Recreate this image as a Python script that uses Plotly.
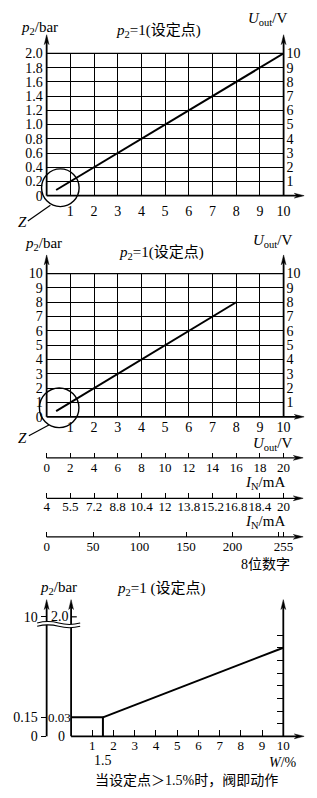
import plotly.graph_objects as go

# ---------------- data ----------------
# chart 1: p2 (bar) versus Uout (V), set point p2 = 1
top_u = [0.4, 10]
top_p2 = [0.08, 2.0]
top_left_vals = [0, 0.2, 0.4, 0.6, 0.8, 1.0, 1.2, 1.4, 1.6, 1.8, 2.0]
top_left_text = ["0", "0.2", "0.4", "0.6", "0.8", "1.0", "1.2", "1.4", "1.6", "1.8", "2.0"]
volt_ticks = [1, 2, 3, 4, 5, 6, 7, 8, 9, 10]
volt_right_ticks = [1, 2, 3, 4, 5, 6, 7, 8, 9, 10]

# chart 2: p2 (bar 0..10) versus Uout (V)
mid_u = [0.4, 8]
mid_p2 = [0.4, 8]
mid_left_vals = [0, 1, 2, 3, 4, 5, 6, 7, 8, 9, 10]

# conversion scales
ma_vals = [0, 2, 4, 6, 8, 10, 12, 14, 16, 18, 20]
ma2_pos = [0, 1, 2, 3, 4, 5, 6, 7, 8, 9, 10]
ma2_text = ["4", "5.5", "7.2", "8.8", "10.4", "12", "13.8", "15.2", "16.8", "18.4", "20"]
dig_vals = [0, 50, 100, 150, 200, 250, 255]
dig_text = ["0", "50", "100", "150", "200", "", "255"]

# chart 3: p2 versus W (%) (schematic units on the y axis)
w_step = [0, 1.5, 1.5]
p_step = [1.5, 1.5, 0]
w_ramp = [1.5, 10]
p_ramp = [1.5, 7]
w_ticks = [1, 2, 3, 4, 5, 6, 7, 8, 9, 10]
ramp_right_ticks = [1, 2, 3, 4, 5, 6, 7, 8]
bot_left_vals = [0, 1.5, 9.44]
bot_left_text = ["0", "0.15", "10"]

# ---------------- geometry (pixels) ----------------
W, H = 317, 798
FONT = '"Liberation Serif", "Times New Roman", "Noto Sans CJK SC", serif'
X0, X10 = 47.7, 290.0
C1_Y0, C1_YT = 192.3, 47.3
C2_Y0, C2_YT = 417.7, 271.7
S1, S2, S3 = 459.5, 500.7, 540.0
A1, C3_X0, C3_X10 = 47.7, 72.7, 289.7
C3_Y0, C3_TIP, C3_UNIT = 743.3, 604.0, 12.9
ARROW_X = 311.0
SCALE_ARROW = 310.0


def dx(x):
    return x / W


def dy(y):
    return 1 - y / H


def padded(pa, pb, r0, r1, pad=3.0):
    unit = (r1 - r0) / (pb - pa)
    return [dx(pa - pad), dx(pb + pad)], [r0 - pad * unit, r1 + pad * unit]


fig = go.Figure()

LINE = dict(color="black", width=2)
fig.add_trace(go.Scatter(x=top_u, y=top_p2, xaxis="x", yaxis="y", mode="lines", line=LINE))
fig.add_trace(go.Scatter(x=mid_u, y=mid_p2, xaxis="x2", yaxis="y3", mode="lines", line=LINE))
fig.add_trace(go.Scatter(x=w_step, y=p_step, xaxis="x6", yaxis="y8", mode="lines", line=LINE))
fig.add_trace(go.Scatter(x=w_ramp, y=p_ramp, xaxis="x6", yaxis="y8", mode="lines", line=LINE))
for xa, ya in [("x", "y2"), ("x2", "y4"), ("x3", "y5"), ("x4", "y6"), ("x5", "y7"), ("x6", "y9")]:
    fig.add_trace(go.Scatter(x=[None], y=[None], xaxis=xa, yaxis=ya, mode="lines", hoverinfo="skip"))

TF = dict(family=FONT, size=14, color="black")
TF13 = dict(family=FONT, size=13, color="black")
grid = dict(showgrid=True, gridcolor="black", gridwidth=1.2, zeroline=False, showline=False,
            ticks="", fixedrange=True, tickangle=0, tickfont=TF)
plain = dict(showgrid=False, zeroline=False, showline=False, fixedrange=True, tickangle=0)

lay = {}
# chart 1
lay["xaxis"] = dict(domain=[dx(X0), dx(X10)], range=[0, 10], anchor="y", tickvals=volt_ticks,
                    ticktext=[str(v) for v in volt_ticks], ticklabelstandoff=5, **grid)
lay["yaxis"] = dict(domain=[dy(C1_Y0), dy(C1_YT)], range=[0, 2], anchor="x", tickvals=top_left_vals,
                    ticktext=top_left_text, ticklabelstandoff=3, **grid)
lay["yaxis2"] = dict(overlaying="y", side="right", anchor="x", range=[0, 10], tickvals=volt_right_ticks,
                     ticktext=[str(v) for v in volt_right_ticks], ticks="", ticklabelstandoff=2,
                     tickfont=TF, **plain)
# chart 2
lay["xaxis2"] = dict(domain=[dx(X0), dx(X10)], range=[0, 10], anchor="y3", tickvals=volt_ticks,
                     ticktext=[str(v) for v in volt_ticks], ticklabelstandoff=0, **grid)
lay["yaxis3"] = dict(domain=[dy(C2_Y0), dy(C2_YT)], range=[0, 10], anchor="x2", tickvals=mid_left_vals,
                     ticktext=[str(v) for v in mid_left_vals], ticklabelstandoff=3, **grid)
lay["yaxis4"] = dict(overlaying="y3", side="right", anchor="x2", range=[0, 10], tickvals=volt_right_ticks,
                     ticktext=[str(v) for v in volt_right_ticks], ticks="", ticklabelstandoff=2,
                     tickfont=TF, **plain)

# scales
tick_in = dict(ticks="inside", ticklen=5, tickwidth=1.3, tickcolor="black")
for xa, ya, S, r1, vals, text, so in [
    ("xaxis3", "yaxis5", S1, 20, ma_vals, [str(v) for v in ma_vals], 0),
    ("xaxis4", "yaxis6", S2, 10, ma2_pos, ma2_text, -1),
    ("xaxis5", "yaxis7", S3, 255, dig_vals, dig_text, 0),
]:
    dom, rng = padded(X0, X10, 0, r1)
    lay[xa] = dict(domain=dom, range=rng, anchor=ya.replace("axis", ""), tickvals=vals, ticktext=text,
                   ticklabelstandoff=so, tickfont=TF13, **tick_in, **plain)
    lay[ya] = dict(domain=[dy(S), dy(S) + 0.002], range=[0, 1], anchor=xa.replace("axis", ""), visible=False)

# chart 3
unit3 = (C3_X10 - C3_X0) / 10
xmin3 = -(C3_X0 - A1) / unit3
ytop3 = (C3_Y0 - C3_TIP) / C3_UNIT
lay["xaxis6"] = dict(domain=[dx(A1), dx(C3_X10)], range=[xmin3, 10], anchor="y8", tickvals=w_ticks,
                     ticktext=[str(v) for v in w_ticks], ticks="inside", ticklen=6, tickwidth=1.3,
                     tickcolor="black", ticklabelstandoff=0, tickfont=TF13, **plain)
lay["yaxis8"] = dict(domain=[dy(C3_Y0), dy(C3_TIP)], range=[0, ytop3], anchor="x6", tickvals=bot_left_vals,
                     ticktext=bot_left_text, ticks="outside", ticklen=5, tickwidth=1.3, tickcolor="black",
                     ticklabelstandoff=0, tickfont=TF, **plain)
lay["yaxis9"] = dict(overlaying="y8", side="right", anchor="x6", range=[0, ytop3], tickvals=ramp_right_ticks,
                     ticktext=["" for _ in ramp_right_ticks], ticks="inside", ticklen=6, tickwidth=1.3,
                     tickcolor="black", tickfont=TF, **plain)

shapes = []


def seg(x0, y0, x1, y1, w=1.8):
    shapes.append(dict(type="line", xref="paper", yref="paper", x0=dx(x0), y0=dy(y0), x1=dx(x1), y1=dy(y1),
                       line=dict(color="black", width=w), layer="above"))


def head(x, y, d, L=10.0, hw=2.4):
    if d == "up":
        pts = [(x, y), (x - hw, y + L), (x, y + 0.72 * L), (x + hw, y + L)]
    else:
        pts = [(x, y), (x - L, y - hw), (x - 0.72 * L, y), (x - L, y + hw)]
    p = "M" + " L".join(f"{dx(a):.5f},{dy(b):.5f}" for a, b in pts) + " Z"
    shapes.append(dict(type="path", xref="paper", yref="paper", path=p, fillcolor="black",
                       line=dict(color="black", width=0.5), layer="above"))


def circle(cx, cy, r):
    shapes.append(dict(type="circle", xref="paper", yref="paper", x0=dx(cx - r), x1=dx(cx + r),
                       y0=dy(cy + r), y1=dy(cy - r), line=dict(color="black", width=1.4), layer="above"))


for Y0, YT in [(C1_Y0, C1_YT), (C2_Y0, C2_YT)]:
    tip = YT - 19
    seg(X0, Y0, X0, tip + 7)
    head(X0, tip, "up")
    seg(X10, Y0, X10, tip + 7)
    head(X10, tip, "up")
    seg(X0, Y0, ARROW_X - 7, Y0)
    head(ARROW_X, Y0, "right")
    seg(X0, YT, X10, YT, 1.2)

circle(61.7, 184.2, 19.2)
seg(28.5, 218.0, 51.5, 202.0, 1.2)
circle(60.5, 408.5, 20.2)
seg(29.5, 437.0, 50.0, 426.0, 1.2)

for S in (S1, S2, S3):
    seg(X0, S, SCALE_ARROW - 7, S, 1.3)
    head(SCALE_ARROW, S, "right")

# chart 3 axes
for xa in (A1, C3_X0, C3_X10):
    seg(xa, C3_Y0, xa, C3_TIP + 7)
    head(xa, C3_TIP, "up")
seg(C3_X0, C3_Y0, ARROW_X - 7, C3_Y0)
head(ARROW_X, C3_Y0, "right")
seg(C3_X0, 621.5, 78.5, 621.5, 1.2)


# axis break
def P(a, b):
    return f"{dx(a):.5f},{dy(b):.5f}"


bx0, bx1, amp = 38.0, 82.0, 1.5
bm = (bx0 + bx1) / 2
q = (bx1 - bx0) / 4
yu, yl = 627.8, 631.2
fill = (f"M{P(bx0, yu)} Q{P(bx0 + q, yu - 2 * amp)} {P(bm, yu)} Q{P(bm + q, yu + 2 * amp)} {P(bx1, yu)} "
        f"L{P(bx1, yl)} Q{P(bm + q, yl + 2 * amp)} {P(bm, yl)} Q{P(bx0 + q, yl - 2 * amp)} {P(bx0, yl)} Z")
shapes.append(dict(type="path", xref="paper", yref="paper", path=fill, fillcolor="white",
                   line=dict(width=0), layer="above"))
for yy in (yu, yl):
    pth = f"M{P(bx0, yy)} Q{P(bx0 + q, yy - 2 * amp)} {P(bm, yy)} Q{P(bm + q, yy + 2 * amp)} {P(bx1, yy)}"
    shapes.append(dict(type="path", xref="paper", yref="paper", path=pth,
                       line=dict(color="black", width=1.1), layer="above"))

ann = []


def txt(s, x, y, size=15, xanchor="center"):
    ann.append(dict(text=s, x=dx(x), y=dy(y), xref="paper", yref="paper", showarrow=False,
                    xanchor=xanchor, yanchor="middle", font=dict(family=FONT, size=size, color="black")))


P2 = "<i>p</i><sub>2</sub>"
UOUT = "<i>U</i><sub>out</sub>/V"
IN = "<i>I</i><sub>N</sub>/mA"
txt(P2 + "/bar", 40, 21)
txt(P2 + "=1(设定点)", 162, 24)
txt(UOUT, 274, 12)
txt("<i>Z</i>", 22.5, 219)
txt(P2 + "/bar", 44, 242)
txt(P2 + "=1(设定点)", 165, 251)
txt(UOUT, 279, 238)
txt("<i>Z</i>", 23, 439)
txt(UOUT, 279, 445)
txt(IN, 271, 485)
txt(IN, 271, 525)
txt("8位数字", 272, 568, 14)
txt(P2 + "/bar", 60, 592)
txt(P2 + "=1 (设定点)", 165, 593)
txt("2.0", 72.5, 621.5, 14, "right")
txt("0.03", 61.2, 724, 13)
txt("0", 63, 743.3, 14)
txt("1.5", C3_X0 + 1.5 * unit3, 768, 14)
txt("<i>W</i>/%", 289, 770, 14)
txt("当设定点＞1.5%时，阀即动作", 191, 788, 14)

fig.update_layout(width=W, height=H, margin=dict(l=0, r=0, t=0, b=0, pad=0), showlegend=False,
                  paper_bgcolor="white", plot_bgcolor="rgba(0,0,0,0)",
                  font=dict(family=FONT, size=14, color="black"), shapes=shapes, annotations=ann, **lay)
fig.write_html("out.html")
